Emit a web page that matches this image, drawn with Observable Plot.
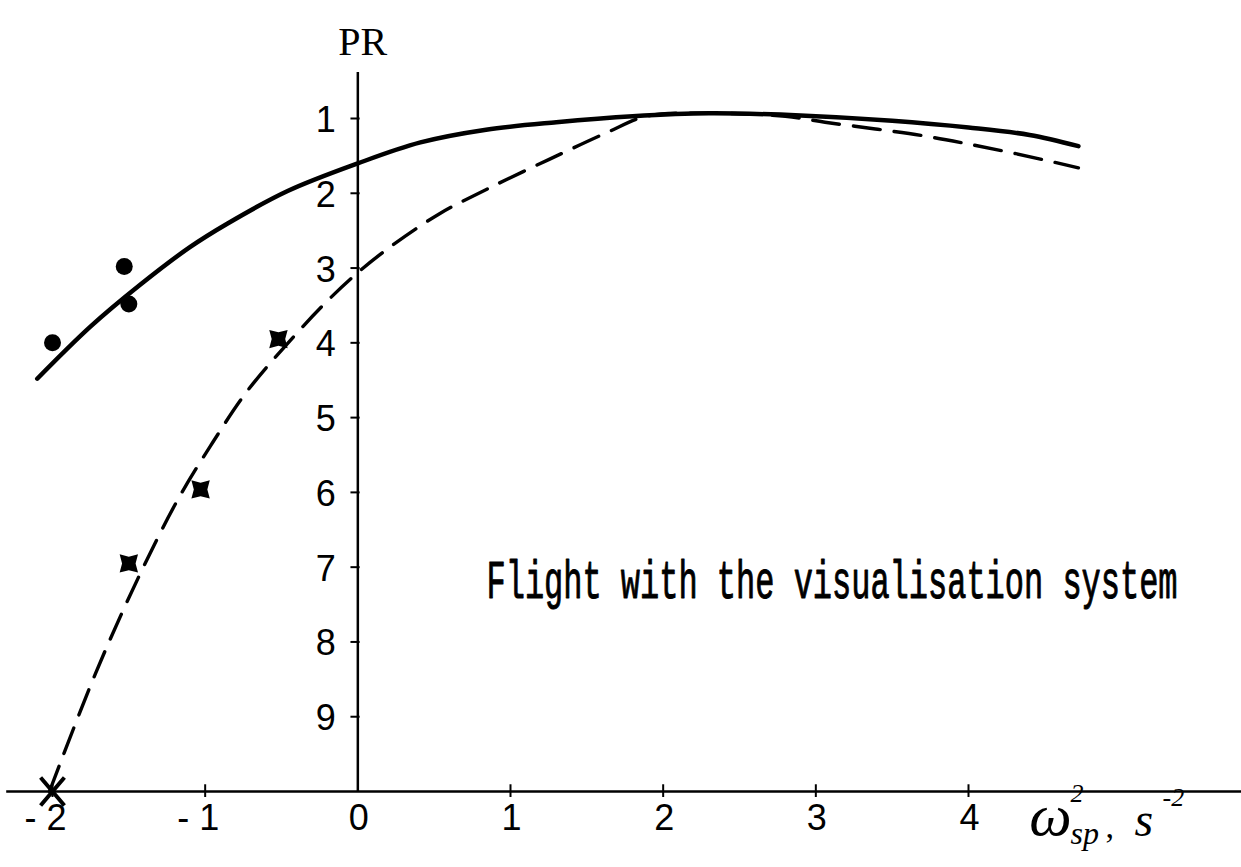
<!DOCTYPE html>
<html>
<head>
<meta charset="utf-8">
<script src="https://cdn.jsdelivr.net/npm/d3@7"></script>
<script src="https://cdn.jsdelivr.net/npm/@observablehq/plot@0.6"></script>
<style>
  html, body { margin: 0; padding: 0; background: #fff; }
  #chart svg { display: block; }
</style>
</head>
<body>
<div id="chart"></div>
<script>
// Pilot rating (PR) versus short-period frequency squared, ω²sp (s⁻²)
const xTicks = [-2, -1, 0, 1, 2, 3, 4];
const yTicks = [1, 2, 3, 4, 5, 6, 7, 8, 9];

// faired curve, solid
const solidW  = [-2.1, -1.75, -1.43, -1.1, -0.85, -0.46, 0, 0.41, 0.84, 1.3, 1.8, 2.3, 2.9, 3.5, 4.0, 4.4, 4.72];
const solidPR = [4.48, 3.78, 3.23, 2.72, 2.4, 1.97, 1.6, 1.32, 1.15, 1.05, 0.97, 0.93, 0.96, 1.03, 1.12, 1.22, 1.37];

// faired curve, dashed
const dashedW  = [-2.02, -1.72, -1.44, -1.18, -0.95, -0.73, -0.43, -0.2, 0, 0.21, 0.53, 0.85, 1.25, 1.63, 1.89, 2.3, 2.8, 3.06, 3.39, 3.7, 3.97, 4.31, 4.72];
const dashedPR = [10.0, 8.43, 7.15, 6.1, 5.33, 4.66, 3.94, 3.44, 3.06, 2.72, 2.28, 1.94, 1.55, 1.19, 0.97, 0.93, 0.97, 1.05, 1.14, 1.23, 1.33, 1.47, 1.66];

// ratings marked with filled circles
const dotW  = [-2.0, -1.53, -1.5];
const dotPR = [4.0, 2.98, 3.48];

// ratings marked with crosses
const crossW  = [-2.0, -1.5, -1.03, -0.52];
const crossPR = [10.0, 6.95, 5.96, 3.95];

const annotation = "Flight with the visualisation system";

const solid   = solidW.map((w, i) => ({w, pr: solidPR[i]}));
const dashed  = dashedW.map((w, i) => ({w, pr: dashedPR[i]}));
const dots    = dotW.map((w, i) => ({w, pr: dotPR[i]}));
const crosses = crossW.map((w, i) => ({w, pr: crossPR[i]}));

// heavy four-armed cross with a filled centre
const starCross = {
  draw(context, size) {
    const R = Math.sqrt(size / Math.PI);
    const r = R * 0.52;
    for (let k = 0; k < 8; ++k) {
      const a = k * Math.PI / 4;
      const rad = k % 2 ? R : r;
      const px = rad * Math.cos(a), py = rad * Math.sin(a);
      if (k === 0) context.moveTo(px, py); else context.lineTo(px, py);
    }
    context.closePath();
  }
};

// thin open cross
const thinCross = {
  draw(context, size) {
    const h = Math.sqrt(size / Math.PI);
    context.moveTo(-h * 0.85, -h);
    context.lineTo(h * 0.85, h);
    context.moveTo(h * 0.85, -h);
    context.lineTo(-h * 0.85, h);
  }
};

const digitFont = "'Liberation Sans', Arial, sans-serif";
const serifFont = "'Liberation Serif', 'Times New Roman', serif";
const monoFont  = "'Liberation Mono', 'DejaVu Sans Mono', monospace";
const fmtTick = d => d < 0 ? `- ${-d}` : String(d);

const chart = Plot.plot({
  width: 1241,
  height: 867,
  margin: 0,
  style: {background: "white", color: "black", overflow: "visible"},
  x: {domain: [-2, 4], range: [52, 968], axis: null},
  y: {domain: [1, 10], range: [118, 791], axis: null},
  marks: [
    // axes drawn through the origin
    Plot.ruleY([10], {x1: -2.3, x2: 5.8, stroke: "black", strokeWidth: 2.5}),
    Plot.ruleX([0], {y1: 0.385, y2: 10, stroke: "black", strokeWidth: 2.5}),
    Plot.ruleX(xTicks.filter(d => d !== 0), {y1: 9.91, y2: 10.08, stroke: "black", strokeWidth: 2}),
    Plot.ruleY(yTicks, {x1: -0.045, x2: 0.015, stroke: "black", strokeWidth: 2}),

    // curves
    Plot.line(solid, {x: "w", y: "pr", curve: "catmull-rom", stroke: "black", strokeWidth: 4.5, strokeLinecap: "round"}),
    Plot.line(dashed, {x: "w", y: "pr", curve: "catmull-rom", stroke: "black", strokeWidth: 3.4, strokeDasharray: "27,14"}),

    // rated points
    Plot.dot(dots, {x: "w", y: "pr", r: 8.5, fill: "black", stroke: "none"}),
    Plot.dot(crosses.filter((d, i) => i > 0), {x: "w", y: "pr", r: 13, symbol: starCross, fill: "black", stroke: "none"}),
    Plot.dot(crosses.filter((d, i) => i === 0), {x: "w", y: "pr", r: 14, symbol: thinCross, fill: "none", stroke: "black", strokeWidth: 4}),

    // tick labels
    Plot.text(yTicks, {x: 0, y: d => d, text: d => String(d), dx: -32, dy: 2, textAnchor: "middle", lineAnchor: "middle", fontSize: 36, fontFamily: digitFont, fill: "black"}),
    Plot.text(xTicks.filter(d => d < 0), {x: d => d, y: 10, text: fmtTick, dx: 14, dy: 27, textAnchor: "end", lineAnchor: "middle", fontSize: 36, fontFamily: digitFont, fill: "black"}),
    Plot.text(xTicks.filter(d => d >= 0), {x: d => d, y: 10, text: fmtTick, dx: 1, dy: 27, textAnchor: "middle", lineAnchor: "middle", fontSize: 36, fontFamily: digitFont, fill: "black"}),

    // axis titles
    Plot.text(["PR"], {x: 0, y: 1, text: d => d, dx: 5, dy: -64, textAnchor: "middle", lineAnchor: "bottom", fontSize: 40, fontFamily: serifFont, fill: "black"}),
    Plot.text(["ω"], {x: 4, y: 10, text: d => d, dx: 82, dy: 43, textAnchor: "middle", lineAnchor: "bottom", fontSize: 60, fontStyle: "italic", fontFamily: serifFont, fill: "black"}),
    Plot.text(["2"], {x: 4, y: 10, text: d => d, dx: 102, dy: 10, textAnchor: "start", lineAnchor: "bottom", fontSize: 26, fontStyle: "italic", fontFamily: serifFont, fill: "black"}),
    Plot.text(["sp"], {x: 4, y: 10, text: d => d, dx: 102, dy: 52, textAnchor: "start", lineAnchor: "bottom", fontSize: 32, fontStyle: "italic", fontFamily: serifFont, fill: "black"}),
    Plot.text([","], {x: 4, y: 10, text: d => d, dx: 137, dy: 46, textAnchor: "start", lineAnchor: "bottom", fontSize: 34, fontFamily: serifFont, fill: "black"}),
    Plot.text(["s"], {x: 4, y: 10, text: d => d, dx: 166, dy: 44, textAnchor: "start", lineAnchor: "bottom", fontSize: 48, fontStyle: "italic", fontFamily: serifFont, fill: "black"}),
    Plot.text(["-2"], {x: 4, y: 10, text: d => d, dx: 194, dy: 14, textAnchor: "start", lineAnchor: "bottom", fontSize: 26, fontStyle: "italic", fontFamily: serifFont, fill: "black"}),

    // in-plot annotation (typewritten, tall and narrow)
    Plot.text([annotation], {x: 1, y: 7, text: d => d, dx: -24, dy: 31, textAnchor: "start", lineAnchor: "bottom", fontSize: 32, fontFamily: monoFont, fill: "black", stroke: "black", strokeWidth: 0.6})
  ]
});

// stretch the typewritten annotation vertically about its baseline
d3.select(chart).selectAll("text")
  .filter(function() { return this.textContent === annotation; })
  .each(function() {
    const el = d3.select(this);
    const t = el.attr("transform");
    if (t) {
      el.attr("transform", `${t} scale(1,1.65)`);
    } else {
      const x = +el.attr("x") || 0, y = +el.attr("y") || 0;
      el.attr("x", null).attr("y", null).attr("transform", `translate(${x},${y}) scale(1,1.65)`);
    }
  });

document.getElementById("chart").appendChild(chart);
</script>
</body>
</html>
